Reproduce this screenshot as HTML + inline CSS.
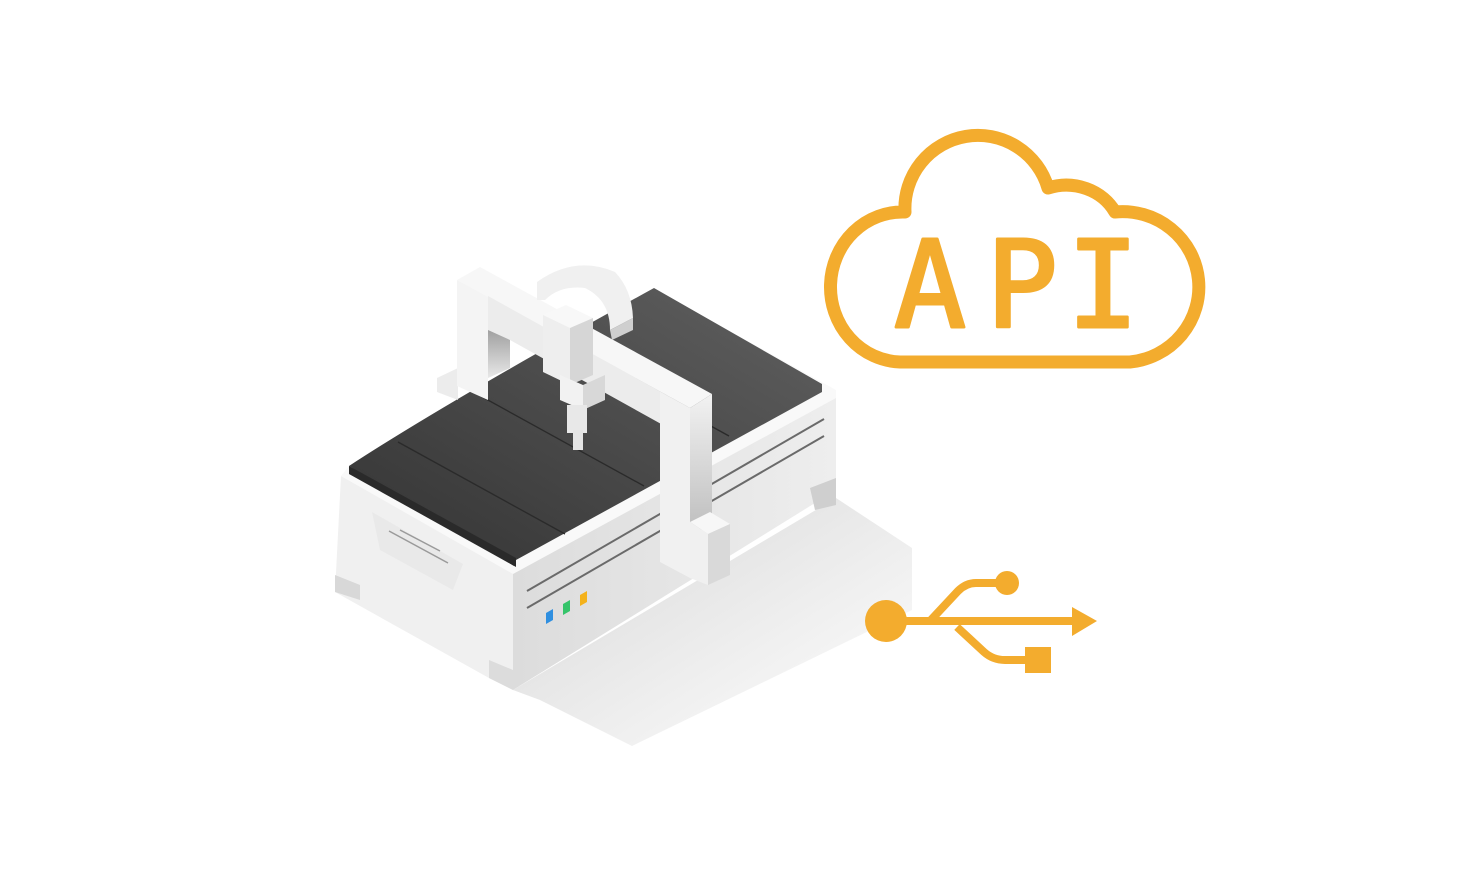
<!DOCTYPE html>
<html><head><meta charset="utf-8"><style>
html,body{margin:0;padding:0;background:#fff;}
svg{display:block;}
</style></head><body>
<svg width="1472" height="871" viewBox="0 0 1472 871" xmlns="http://www.w3.org/2000/svg">
<defs>
<linearGradient id="sh" x1="0" y1="0" x2="1" y2="1">
<stop offset="0" stop-color="#d6d6d6"/><stop offset="0.6" stop-color="#efefef"/><stop offset="1" stop-color="#ffffff"/></linearGradient>
<linearGradient id="top" x1="0" y1="1" x2="1" y2="0">
<stop offset="0" stop-color="#333"/><stop offset="1" stop-color="#606060"/></linearGradient>
<linearGradient id="rf" x1="0" y1="0" x2="1" y2="0">
<stop offset="0" stop-color="#dcdcdc"/><stop offset="1" stop-color="#eeeeee"/></linearGradient>
<linearGradient id="post" x1="0" y1="0" x2="0" y2="1">
<stop offset="0" stop-color="#f2f2f2"/><stop offset="1" stop-color="#bdbdbd"/></linearGradient>
<linearGradient id="inner" x1="0" y1="0" x2="0" y2="1">
<stop offset="0" stop-color="#9a9a9a"/><stop offset="1" stop-color="#e8e8e8"/></linearGradient>
</defs>

<polygon points="513,690 836,498 912,548 912,610 632,746 540,700" fill="url(#sh)"/>

<polygon points="341,476 513,571 513,690 489,678 335,592" fill="#f0f0f0"/>
<polygon points="335,575 360,585 360,600 335,592" fill="#d8d8d8"/>
<polygon points="372,512 463,564 453,590 380,550" fill="#e9e9e9"/>
<line x1="389" y1="531" x2="448" y2="563" stroke="#9a9a9a" stroke-width="1.5"/>
<line x1="400" y1="530" x2="440" y2="551" stroke="#9a9a9a" stroke-width="1.5"/>
<polygon points="513,571 836,395 836,490 513,690" fill="url(#rf)"/>
<polygon points="810,488 836,478 836,505 815,510" fill="#cfcfcf"/>
<polygon points="489,660 513,670 513,690 489,678" fill="#dcdcdc"/>
<line x1="527" y1="591" x2="824" y2="419" stroke="#6a6a6a" stroke-width="2"/>
<line x1="527" y1="608" x2="824" y2="436" stroke="#6a6a6a" stroke-width="2"/>
<polygon points="546,613 553,609 553,620 546,624" fill="#2f8fe0"/>
<polygon points="563,604 570,600 570,611 563,615" fill="#35c46a"/>
<polygon points="580,595 587,591 587,602 580,606" fill="#f4b21c"/>
<polygon points="341,476 349,466 654,289 836,390 836,398 513,574" fill="#f9f9f9"/>

<path d="M349,466 Q450,400 654,288 L822,384 L822,392 L516,560 L514,566 Z" fill="url(#top)"/>
<polygon points="349,466 516,558 516,567 349,474" fill="#2a2a2a"/>
<g stroke="#2a2a2a" stroke-width="1.3">
<line x1="398" y1="442" x2="565" y2="534"/>
<line x1="477" y1="394" x2="644" y2="486"/>
<line x1="562" y1="344" x2="729" y2="436"/>
</g>

<polygon points="437,378 458,368 458,400 437,392" fill="#ececec"/>
<polygon points="457,280 488,296 488,400 457,386" fill="#f4f4f4"/>
<polygon points="488,326 510,338 510,368 488,378" fill="url(#inner)"/>
<polygon points="457,280 480,267 712,394 690,408" fill="#f7f7f7"/>
<polygon points="488,296 690,408 690,440 510,340 488,330" fill="#ececec"/>
<polygon points="660,392 690,408 690,578 660,562" fill="#f1f1f1"/>
<polygon points="690,408 712,394 712,525 690,535" fill="url(#post)"/>
<polygon points="690,522 710,512 730,524 708,534" fill="#f7f7f7"/>
<polygon points="708,534 730,524 730,575 708,585" fill="#d9d9d9"/>
<polygon points="690,522 708,534 708,585 690,578" fill="#f0f0f0"/>

<path d="M537,300 L537,282 Q575,255 615,272 Q632,290 633,318 L610,330 Q610,300 585,288 Q560,285 545,300 Z" fill="#f0f0f0"/>
<polygon points="610,330 633,318 633,330 612,340" fill="#cfcfcf"/>
<polygon points="543,315 566,305 593,318 570,328" fill="#f8f8f8"/>
<polygon points="543,315 570,328 570,385 543,372" fill="#eeeeee"/>
<polygon points="570,328 593,318 593,375 570,385" fill="#d6d6d6"/>
<polygon points="560,375 583,385 583,410 560,400" fill="#f2f2f2"/>
<polygon points="583,385 605,375 605,400 583,410" fill="#d8d8d8"/>
<rect x="567" y="405" width="20" height="28" fill="#e8e8e8"/>
<rect x="573" y="430" width="10" height="20" fill="#e4e4e4"/>

<path d="M900,362 A72,75 0 0 1 905,212 A73,73 0 0 1 1048,188 A55,50 0 0 1 1115,212 A76,75 0 0 1 1130,362 Z" fill="none" stroke="#F3AC2E" stroke-width="13" stroke-linejoin="round"/>
<g font-family="DejaVu Sans Mono, monospace" font-size="120" fill="#F3AC2E" stroke="#F3AC2E" stroke-width="3" stroke-linejoin="round" stroke-linecap="round" text-anchor="middle">
<text x="930" y="327">A</text>
<text x="1022" y="327">P</text>
<text x="1103" y="327">I</text>
</g>

<g fill="#F3AC2E" stroke="#F3AC2E">
<circle cx="886" cy="621" r="21" stroke="none"/>
<line x1="886" y1="621" x2="1075" y2="621" stroke-width="8"/>
<polygon points="1072,607 1097,621 1072,636" stroke="none"/>
<path d="M930,621 L958,591 Q966,583 976,583 L1005,583" fill="none" stroke-width="8" stroke-linejoin="round"/>
<circle cx="1007" cy="583" r="12" stroke="none"/>
<path d="M957,627 L984,652 Q993,660 1005,660 L1030,660" fill="none" stroke-width="8" stroke-linejoin="round"/>
<rect x="1025" y="647" width="26" height="26" stroke="none"/>
</g>
</svg>
</body></html>
